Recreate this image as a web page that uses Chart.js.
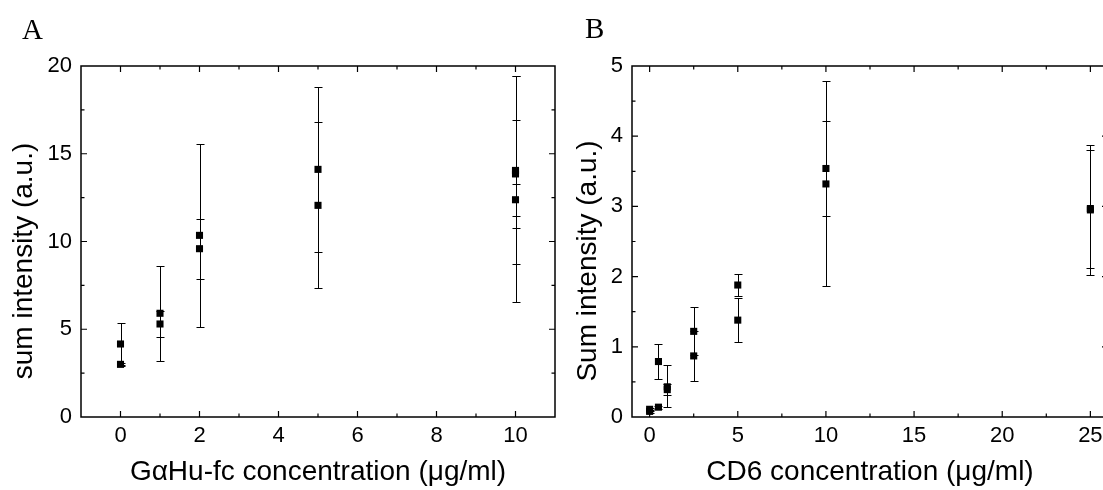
<!DOCTYPE html>
<html><head><meta charset="utf-8">
<script src="https://cdn.jsdelivr.net/npm/chart.js@4.4.1/dist/chart.umd.min.js"></script>
<style>
html,body{margin:0;padding:0;background:#fff;overflow:hidden;width:1103px;height:490px;position:relative;}
#wrapA{position:absolute;left:0;top:0;width:560px;height:490px;}
#wrapB{position:absolute;left:560px;top:0;width:560px;height:490px;}
.lbl{position:absolute;font-family:"Liberation Serif","Times New Roman",serif;font-size:29px;line-height:1;color:#000;}
</style></head><body>
<div id="wrapA"><canvas id="cA" width="560" height="490"></canvas></div>
<div id="wrapB"><canvas id="cB" width="560" height="490"></canvas></div>
<div class="lbl" style="left:22px;top:15px">A</div>
<div class="lbl" style="left:585px;top:14px">B</div>
<script>
// ---------- Panel A data ----------
const aX  = [0, 0, 1, 1, 2, 2, 5, 5, 10, 10, 10, 10];
const aY  = [4.16, 3.00, 5.91, 5.30, 10.35, 9.59, 14.11, 12.06, 14.05, 13.85, 12.38, 14.00];
const aLo = [2.98, 2.90, 3.17, 4.54, 5.15, 7.88, 9.38, 7.33, 8.72, 10.75, 11.45, 6.57];
const aHi = [5.34, 3.10, 8.60, 6.06, 15.56, 11.28, 18.82, 16.79, 19.43, 16.92, 13.26, 19.45];
const aXTicks = [0, 2, 4, 6, 8, 10];
const aYTicks = [0, 5, 10, 15, 20];
const aXTitle = 'G\u03B1Hu-fc concentration (\u03BCg/ml)';
const aYTitle = 'sum intensity (a.u.)';

// ---------- Panel B data ----------
const bX  = [0, 0, 0.5, 0.5, 1, 1, 2.5, 2.5, 5, 5, 10, 10, 25, 25];
const bY  = [0.08, 0.11, 0.79, 0.14, 0.43, 0.39, 1.22, 0.87, 1.88, 1.38, 3.54, 3.32, 2.95, 2.97];
const bLo = [0.06, 0.09, 0.54, 0.12, 0.14, 0.31, 0.88, 0.51, 1.72, 1.07, 2.86, 1.86, 2.02, 2.12];
const bHi = [0.10, 0.13, 1.04, 0.16, 0.74, 0.47, 1.56, 1.23, 2.04, 1.70, 4.22, 4.78, 3.87, 3.81];
const bXTicks = [0, 5, 10, 15, 20, 25];
const bYTicks = [0, 1, 2, 3, 4, 5];
const bXTitle = 'CD6 concentration (\u03BCg/ml)';
const bYTitle = 'Sum intensity (a.u.)';

const FONT = '"Liberation Sans", Arial, Helvetica, sans-serif';

function midTicks(t) {
  const out = [];
  const step = t[1] - t[0];
  for (const v of t) out.push(v + step / 2);
  out.unshift(t[0] - step / 2);
  return out;
}

const framePlugin = {
  id: 'frame',
  beforeDatasetsDraw(chart, args, o) {
    const ctx = chart.ctx, xs = chart.scales.x, ys = chart.scales.y;
    ctx.save();
    ctx.strokeStyle = '#000';
    ctx.lineWidth = 1;
    const cap = 4;
    for (let i = 0; i < o.ex.length; i++) {
      const px = Math.round(xs.getPixelForValue(o.ex[i])) + 0.5;
      const yl = Math.round(ys.getPixelForValue(o.lo[i])) + 0.5;
      const yh = Math.round(ys.getPixelForValue(o.hi[i])) + 0.5;
      ctx.beginPath();
      ctx.moveTo(px, yl); ctx.lineTo(px, yh);
      ctx.moveTo(px - cap, yh); ctx.lineTo(px + cap, yh);
      ctx.moveTo(px - cap, yl); ctx.lineTo(px + cap, yl);
      ctx.stroke();
    }
    ctx.restore();
  },
  afterDraw(chart, args, o) {
    const ctx = chart.ctx, xs = chart.scales.x, ys = chart.scales.y;
    const a = chart.chartArea;
    ctx.save();
    ctx.strokeStyle = '#000';
    ctx.lineWidth = 1.5;
    ctx.strokeRect(a.left, a.top, a.right - a.left, a.bottom - a.top);
    ctx.lineWidth = 1.2;
    const maj = 6, mnr = 3.5;
    const drawX = (vals, len) => {
      for (const v of vals) {
        if (v <= xs.min || v >= xs.max) continue;
        const p = xs.getPixelForValue(v);
        ctx.beginPath();
        ctx.moveTo(p, a.bottom); ctx.lineTo(p, a.bottom - len);
        ctx.moveTo(p, a.top); ctx.lineTo(p, a.top + len);
        ctx.stroke();
      }
    };
    const drawY = (vals, len) => {
      for (const v of vals) {
        if (v <= ys.min || v >= ys.max) continue;
        const p = ys.getPixelForValue(v);
        ctx.beginPath();
        ctx.moveTo(a.left, p); ctx.lineTo(a.left + len, p);
        ctx.moveTo(a.right, p); ctx.lineTo(a.right - len, p);
        ctx.stroke();
      }
    };
    drawX(o.xt, maj); drawX(midTicks(o.xt), mnr);
    drawY(o.yt, maj); drawY(midTicks(o.yt), mnr);
    // rotated y-axis title
    ctx.fillStyle = '#000';
    ctx.font = '28px ' + FONT;
    ctx.textAlign = 'center';
    ctx.textBaseline = 'alphabetic';
    ctx.translate(o.ytX, o.ytY);
    ctx.rotate(-Math.PI / 2);
    ctx.fillText(o.yTitle, 0, 0);
    ctx.restore();
  }
};

function makeChart(id, d) {
  return new Chart(document.getElementById(id), {
    type: 'scatter',
    data: {
      datasets: [{
        data: d.x.map((x, i) => ({ x: x, y: d.y[i] })),
        pointStyle: 'rect',
        pointRadius: 5,
        pointHoverRadius: 5,
        backgroundColor: '#000',
        borderColor: '#000',
        borderWidth: 0,
        showLine: false
      }]
    },
    options: {
      responsive: false,
      animation: false,
      devicePixelRatio: 1,
      events: [],
      layout: { padding: { left: d.padL, top: 66, right: d.padR, bottom: 0 } },
      plugins: {
        legend: { display: false },
        tooltip: { enabled: false },
        frame: { ex: d.x, lo: d.lo, hi: d.hi, xt: d.xt, yt: d.yt, yTitle: d.yTitle, ytX: d.ytX, ytY: 261 }
      },
      scales: {
        x: {
          type: 'linear', min: d.xmin, max: d.xmax,
          grid: { display: false, drawTicks: false },
          border: { display: false },
          ticks: { font: { family: FONT, size: 22 }, color: '#000', padding: 6, maxRotation: 0, autoSkip: false },
          afterBuildTicks: s => { s.ticks = d.xt.map(v => ({ value: v })); },
          afterFit: s => { s.height = 73; },
          title: { display: true, text: d.xTitle, color: '#000', font: { family: FONT, size: 28 }, padding: { top: 0, bottom: 1 } }
        },
        y: {
          type: 'linear', min: d.ymin, max: d.ymax,
          grid: { display: false, drawTicks: false },
          border: { display: false },
          ticks: { font: { family: FONT, size: 22 }, color: '#000', padding: 9, autoSkip: false },
          afterBuildTicks: s => { s.ticks = d.yt.map(v => ({ value: v })); },
          afterFit: s => { s.width = d.yW; }
        }
      }
    },
    plugins: [framePlugin]
  });
}

makeChart('cA', { x: aX, y: aY, lo: aLo, hi: aHi, xt: aXTicks, yt: aYTicks, xmin: -1, xmax: 11, ymin: 0, ymax: 20,
  xTitle: aXTitle, yTitle: aYTitle, padL: 1, padR: 2, yW: 80, ytX: 32 });
makeChart('cB', { x: bX, y: bY, lo: bLo, hi: bHi, xt: bXTicks, yt: bYTicks, xmin: -1, xmax: 26, ymin: 0, ymax: 5,
  xTitle: bXTitle, yTitle: bYTitle, padL: 0, padR: 12, yW: 72, ytX: 36 });
</script>
</body></html>
